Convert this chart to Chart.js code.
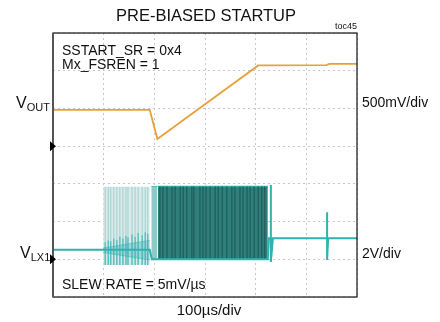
<!DOCTYPE html>
<html>
<head>
<meta charset="utf-8">
<script src="https://cdn.jsdelivr.net/npm/chart.js@4.4.1/dist/chart.umd.min.js"></script>
<style>
  body { margin: 0; background: #fff; }
  #wrap { width: 440px; height: 322px; }
</style>
</head>
<body>
<div id="wrap"><canvas id="scope" width="440" height="322"></canvas></div>
<script>
// time in us (100us/div, 6 div), level in scope divisions (0..7)
const voutTimeUs = [0, 191, 206, 405, 540, 545, 600];
const voutDiv = [4.96, 4.96, 4.19, 6.14, 6.15, 6.18, 6.18];

const lxTimeUs = [0, 99, 191, 195, 207, 424, 426, 430, 430, 430, 434, 541, 541, 541, 543, 600];
const lxDiv = [1.25, 1.25, 1.25, 1.0, 1.0, 1.0, 1.56, 1.56, 2.97, 0.93, 1.56, 1.56, 2.25, 0.98, 1.56, 1.56];

// switching bursts: [start, end] and [low, high]
const lightBurstUs = [99, 191];
const lightBurstDiv = [0.85, 2.92];
const edgeBurstUs = [194, 206];
const darkBurstUs = [207, 424];
const darkBurstDiv = [1.0, 2.93];

// ringing band on the pre-biased node
const ringBandUs = [99, 191];
const ringBandHigh = [1.3, 1.5];
const ringBandLow = [1.18, 0.98];

const lightPulseUs = [103, 109, 114, 120, 126, 132, 138, 144, 148, 156, 162, 168, 176, 182, 187];
const ringPeakDiv = [1.45, 1.5, 1.48, 1.55, 1.52, 1.6, 1.55, 1.62, 1.58, 1.66, 1.6, 1.7, 1.64, 1.72, 1.68];
const darkPulseUs = [211, 217, 225, 235, 241, 251, 257, 264, 274, 278, 290, 296, 302, 310, 320, 326,
                     334, 343, 353, 359, 369, 375, 383, 389, 397, 405, 412, 418];

const xDivs = [0, 600];
const yDivs = [0, 7];

const ORANGE = '#e8a03c';
const TEAL = '#2fb2b1';

function pts(xs, ys) {
    return xs.map((x, i) => ({x: x, y: ys[i]}));
}
function span(xs, y) {
    return [{x: xs[0], y: y}, {x: xs[1], y: y}];
}
function pulses(times, lo, hi) {
    let out = [];
    times.forEach((t, i) => {
        out.push({x: t, y: lo}, {x: t, y: Array.isArray(hi) ? hi[i] : hi}, {x: t, y: null});
    });
    return out;
}

const line = {showLine: true, pointRadius: 0, tension: 0, spanGaps: false};

const datasets = [
    // 0 vout
    Object.assign({data: pts(voutTimeUs, voutDiv), borderColor: ORANGE, borderWidth: 1.8, order: 0}, line),
    // 1 lx trace
    Object.assign({data: pts(lxTimeUs, lxDiv), borderColor: TEAL, borderWidth: 2, order: 1}, line),
    // 2 dark burst top edge + fill
    Object.assign({data: span(darkBurstUs, darkBurstDiv[1]), borderColor: '#3aa9a7', borderWidth: 1.5,
        backgroundColor: '#307f7c', fill: {value: darkBurstDiv[0]}, order: 4}, line),
    // 3 dark burst pulses
    Object.assign({data: pulses(darkPulseUs, darkBurstDiv[0], darkBurstDiv[1]), borderColor: '#1d5d5b',
        borderWidth: 1.2, order: 3}, line),
    // 4 edge column at the burst start
    Object.assign({data: span(edgeBurstUs, darkBurstDiv[1]), borderColor: '#5fbdbb', borderWidth: 1,
        backgroundColor: '#8fcac8', fill: {value: darkBurstDiv[0]}, order: 4}, line),
    // 5 light burst fill
    Object.assign({data: span(lightBurstUs, lightBurstDiv[1]), borderColor: 'rgba(0,0,0,0)', borderWidth: 0,
        backgroundColor: '#d9eaea', fill: {value: lightBurstDiv[0]}, order: 6}, line),
    // 6 light burst pulses
    Object.assign({data: pulses(lightPulseUs, lightBurstDiv[0], lightBurstDiv[1]), borderColor: '#a3cfce',
        borderWidth: 1, order: 5}, line),
    // 7 ring band high
    Object.assign({data: pts(ringBandUs, ringBandHigh), borderColor: 'rgba(47,178,177,0.5)', borderWidth: 1,
        backgroundColor: 'rgba(47,178,177,0.35)', fill: 8, order: 2}, line),
    // 8 ring band low
    Object.assign({data: pts(ringBandUs, ringBandLow), borderColor: 'rgba(47,178,177,0.5)', borderWidth: 1,
        order: 2}, line),
    // 9 ringing spikes
    Object.assign({data: pulses(lightPulseUs, lightBurstDiv[0], ringPeakDiv), borderColor: 'rgba(47,178,177,0.8)',
        borderWidth: 1.2, order: 2}, line)
];

const scopeText = {
    id: 'scopeText',
    afterDraw(chart) {
        const ctx = chart.ctx;
        const a = chart.chartArea;
        ctx.save();
        // frame
        ctx.strokeStyle = '#111';
        ctx.lineWidth = 1.2;
        ctx.strokeRect(a.left, a.top, a.right - a.left, a.bottom - a.top);
        ctx.strokeStyle = '#555';
        ctx.lineWidth = 2;
        ctx.beginPath();
        ctx.moveTo(a.left, a.top);
        ctx.lineTo(a.left, a.bottom);
        ctx.stroke();

        // ground markers
        const y = chart.scales.y;
        [4, 1.0].forEach(lv => {
            const py = y.getPixelForValue(lv);
            ctx.fillStyle = '#000';
            ctx.beginPath();
            ctx.moveTo(a.left - 3, py - 5);
            ctx.lineTo(a.left + 3, py);
            ctx.lineTo(a.left - 3, py + 5);
            ctx.closePath();
            ctx.fill();
        });

        const F = '"Liberation Sans", Arial, sans-serif';
        ctx.fillStyle = '#111';
        ctx.textBaseline = 'alphabetic';
        ctx.textAlign = 'center';
        ctx.font = '16.5px ' + F;
        ctx.fillText('PRE-BIASED STARTUP', 206, 21);
        ctx.font = '15px ' + F;
        ctx.fillText('100\u00b5s/div', 209, 315);

        ctx.textAlign = 'right';
        ctx.font = '9px ' + F;
        ctx.fillText('toc45', a.right, 29);

        ctx.textAlign = 'left';
        ctx.font = '14px ' + F;
        ctx.fillText('SSTART_SR = 0x4', 62, 55);
        ctx.fillText('Mx_FSREN = 1', 62, 69);
        ctx.fillText('SLEW RATE = 5mV/\u00b5s', 62, 289);
        ctx.fillText('500mV/div', 362, 107);
        ctx.fillText('2V/div', 362, 258);

        // channel names with subscripts
        function chan(main, sub, x, base) {
            ctx.font = '16px ' + F;
            ctx.fillText(main, x, base);
            const w = ctx.measureText(main).width;
            ctx.font = '11px ' + F;
            ctx.fillText(sub, x + w, base + 3);
        }
        chan('V', 'OUT', 16, 108);
        chan('V', 'LX1', 20, 258);
        ctx.restore();
    }
};

const chart = new Chart(document.getElementById('scope'), {
    type: 'scatter',
    data: {datasets: datasets},
    options: {
        responsive: false,
        animation: false,
        layout: {padding: {left: 53, right: 83, top: 33, bottom: 25}},
        plugins: {legend: {display: false}, tooltip: {enabled: false}, title: {display: false}},
        scales: {
            x: {
                type: 'linear', min: xDivs[0], max: xDivs[1],
                ticks: {display: false, stepSize: 100},
                grid: {color: '#c8c8c8', lineWidth: 1, drawTicks: false},
                border: {display: false, dash: [2, 3]}
            },
            y: {
                type: 'linear', min: yDivs[0], max: yDivs[1],
                ticks: {display: false, stepSize: 1},
                grid: {color: '#c8c8c8', lineWidth: 1, drawTicks: false},
                border: {display: false, dash: [2, 3]}
            }
        }
    },
    plugins: [scopeText]
});
</script>
</body>
</html>
